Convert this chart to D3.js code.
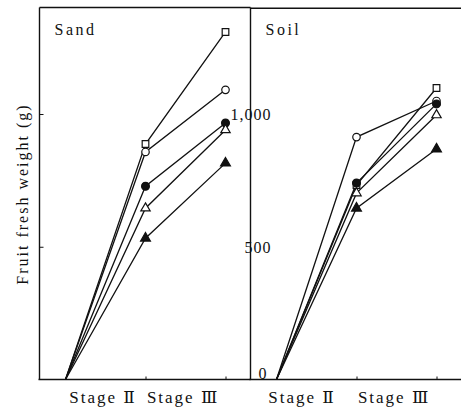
<!DOCTYPE html>
<html>
<head>
<meta charset="utf-8">
<script src="https://d3js.org/d3.v7.min.js"></script>
<style>
  body { margin: 0; background: #fff; }
  svg text { font-family: "Liberation Serif", "DejaVu Serif", "Times New Roman", serif !important; fill: #111; }
</style>
</head>
<body>
<svg id="drawing_region"></svg>
<script>
// x positions: start of growth, end of Stage II, end of Stage III
const stages = [0, 1, 2];
const stage_labels = ["Stage Ⅱ", "Stage Ⅲ"];
const markers = ["square", "open_circle", "filled_circle", "open_triangle", "filled_triangle"];

// fruit fresh weight (g) per marker
const sand_values = [
    [0, 887, 1309],   // open square
    [0, 857, 1091],   // open circle
    [0, 728, 966],    // filled circle
    [0, 645, 940],    // open triangle
    [0, 532, 815]     // filled triangle
];
const soil_values = [
    [0, 732, 1098],
    [0, 913, 1049],
    [0, 740, 1038],
    [0, 702, 996],
    [0, 645, 868]
];
const y_ticks = [0, 500, 1000];
const panels = ["Sand", "Soil"];

const W = 461, H = 411;
const frame_top = 7.5, frame_bottom = 379.5;
const panel_left = [39.5, 250.5];
const panel_width = 211;
const serif = '"Liberation Serif", "DejaVu Serif", serif';

const svg = d3.select('#drawing_region')
    .attr('width', W)
    .attr('height', H);

const yscale = d3.scaleLinear()
    .domain([0, 1000])
    .range([frame_bottom, 114]);

const symbol_type = {
    square: d3.symbolSquare,
    open_circle: d3.symbolCircle,
    filled_circle: d3.symbolCircle,
    open_triangle: d3.symbolTriangle,
    filled_triangle: d3.symbolTriangle
};
const symbol_size = {
    square: 44, open_circle: 44, filled_circle: 48, open_triangle: 38, filled_triangle: 42
};

function draw_panel(i, values) {
    const x0 = panel_left[i];
    const xscale = d3.scaleLinear()
        .domain([0, 2])
        .range([x0 + 26, x0 + 186]);

    const g = svg.append('g');

    // frame
    g.append('line')
        .attr('x1', x0).attr('x2', i == 0 ? x0 + panel_width : W)
        .attr('y1', frame_top + i * 0.8).attr('y2', frame_top + i * 0.8)
        .attr('stroke', '#111').attr('stroke-width', 1.4);

    // y axis
    const yaxis = d3.axisLeft(yscale)
        .tickValues(i == 0 ? [500, 1000] : y_ticks)
        .tickSize(i == 0 ? -4 : 0)
        .tickFormat(i == 0 ? '' : d3.format(','));
    const yg = g.append('g')
        .attr('transform', `translate(${x0}, 0)`)
        .attr('font-family', serif)
        .call(yaxis);
    yg.attr('font-family', serif);
    yg.select('.domain').attr('d', `M0,${frame_top}V${frame_bottom}`).attr('stroke', '#111').attr('stroke-width', 1.4);
    yg.selectAll('.tick line').attr('stroke', '#111');
    yg.selectAll('.tick text')
        .attr('text-anchor', 'end')
        .attr('x', d => d == 0 ? 17 : 21)
        .attr('dy', d => d == 0 ? '-0.05em' : '0.35em')
        .attr('font-size', 16)
        .attr('letter-spacing', 1)
        .attr('fill', '#111')
        .attr('font-family', serif);

    // x axis
    const xaxis = d3.axisBottom(xscale)
        .tickValues([1, 2])
        .tickSize(-3)
        .tickFormat('');
    const xg = g.append('g')
        .attr('transform', `translate(0, ${frame_bottom})`)
        .call(xaxis);
    xg.select('.domain').attr('d', `M${x0 - 1},0H${i == 0 ? x0 + panel_width : W}`)
        .attr('stroke', '#111').attr('stroke-width', 1.4);
    xg.selectAll('.tick line').attr('stroke', '#111');

    // stage labels
    g.selectAll('text.stage')
        .data(stage_labels)
        .join('text')
        .attr('class', 'stage')
        .attr('x', (d, j) => xscale(j + (i == 0 ? 0.47 : 0.32) + (j == 1 ? (i == 0 ? 0.0 : 0.15) : 0)))
        .attr('y', 403)
        .attr('text-anchor', 'middle')
        .attr('font-size', 17)
        .attr('font-family', serif)
        .attr('letter-spacing', 2)
        .text(d => d);

    // panel title
    g.append('text')
        .attr('x', x0 + 15)
        .attr('y', 35)
        .attr('font-size', 16)
        .attr('font-family', serif)
        .attr('letter-spacing', 2.5)
        .text(panels[i]);

    // lines
    const line = d3.line()
        .x((d, j) => xscale(stages[j]))
        .y(d => yscale(d));

    g.selectAll('path.series')
        .data(values)
        .join('path')
        .attr('class', 'series')
        .attr('d', d => line(d))
        .attr('fill', 'none')
        .attr('stroke', '#111')
        .attr('stroke-width', 1.3);

    // markers at Stage II and Stage III
    const points = [];
    values.forEach((v, k) => {
        [1, 2].forEach(j => points.push({ m: markers[k], x: stages[j], y: v[j] }));
    });

    g.selectAll('path.marker')
        .data(points)
        .join('path')
        .attr('class', 'marker')
        .attr('transform', d => `translate(${xscale(d.x)}, ${yscale(d.y)})`)
        .attr('d', d => d3.symbol().type(symbol_type[d.m]).size(symbol_size[d.m])())
        .attr('fill', d => d.m.startsWith('filled') ? '#111' : '#fff')
        .attr('stroke', '#111')
        .attr('stroke-width', 1.2);
}

draw_panel(0, sand_values);
draw_panel(1, soil_values);

// y axis title
svg.append('text')
    .attr('transform', `translate(28, 194) rotate(-90)`)
    .attr('text-anchor', 'middle')
    .attr('font-size', 16)
    .attr('font-family', serif)
    .attr('letter-spacing', 2)
    .text('Fruit fresh weight (g)');
</script>
</body>
</html>
